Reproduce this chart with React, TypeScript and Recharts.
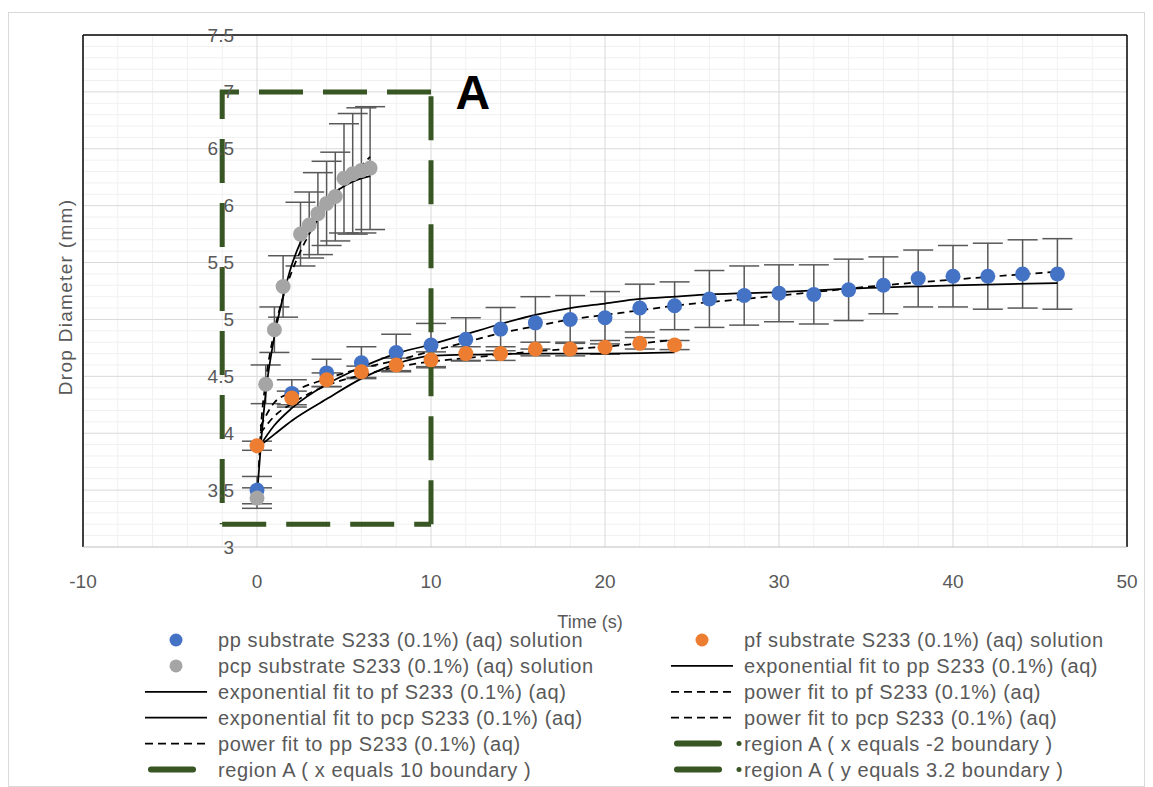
import React from 'react';
import {
  ComposedChart,
  ErrorBar,
  Line,
  ReferenceDot,
  ReferenceLine,
  Scatter,
  XAxis,
  YAxis,
} from 'recharts';

const BLUE = '#4472c4';
const ORANGE = '#ed7d31';
const GRAY = '#a5a5a5';
const GREEN = '#375623';
const TEXT = '#595959';
const BAR = '#595959';
const FONT = "'Liberation Sans', Arial, sans-serif";

// measured drops, pp substrate
const ppTime = [0, 2, 4, 6, 8, 10, 12, 14, 16, 18, 20, 22, 24, 26, 28, 30, 32, 34, 36, 38, 40, 42, 44, 46];
const ppDiameter = [3.5, 4.35, 4.53, 4.62, 4.71, 4.775, 4.825, 4.915, 4.97, 5.0, 5.015, 5.1, 5.12, 5.18, 5.21, 5.23, 5.22, 5.26, 5.3, 5.36, 5.38, 5.38, 5.4, 5.4];
const ppError = [0.12, 0.12, 0.12, 0.14, 0.16, 0.19, 0.19, 0.19, 0.23, 0.21, 0.23, 0.21, 0.21, 0.25, 0.26, 0.25, 0.26, 0.27, 0.25, 0.25, 0.27, 0.29, 0.3, 0.31];

// pf substrate
const pfTime = [0, 2, 4, 6, 8, 10, 12, 14, 16, 18, 20, 22, 24];
const pfDiameter = [3.89, 4.31, 4.47, 4.54, 4.6, 4.645, 4.7, 4.7, 4.74, 4.74, 4.755, 4.79, 4.775];
const pfError = [0.04, 0.06, 0.06, 0.05, 0.06, 0.07, 0.06, 0.06, 0.06, 0.06, 0.06, 0.05, 0.04];

// pcp substrate
const pcpTime = [0, 0.5, 1, 1.5, 2.5, 3, 3.5, 4, 4.5, 5, 5.5, 6, 6.5];
const pcpDiameter = [3.43, 4.43, 4.91, 5.29, 5.75, 5.83, 5.93, 6.02, 6.08, 6.24, 6.28, 6.31, 6.33];
const pcpError = [0.09, 0.17, 0.2, 0.27, 0.28, 0.29, 0.36, 0.37, 0.39, 0.48, 0.53, 0.55, 0.54];

// fitted curves
const expPpTime = [0, 1, 2, 4, 6, 8, 10, 12, 14, 16, 18, 20, 22, 24, 26, 30, 34, 40, 46];
const expPpValue = [3.85, 4.07, 4.22, 4.43, 4.58, 4.7, 4.78, 4.87, 4.96, 5.04, 5.1, 5.14, 5.18, 5.2, 5.22, 5.24, 5.27, 5.3, 5.32];
const powPpTime = [0.2, 1, 2, 4, 6, 8, 10, 12, 14, 16, 18, 20, 22, 24, 28, 32, 36, 40, 46];
const powPpValue = [4.06, 4.27, 4.36, 4.48, 4.57, 4.64, 4.72, 4.8, 4.88, 4.94, 5.0, 5.04, 5.08, 5.12, 5.18, 5.24, 5.3, 5.35, 5.42];
const expPfTime = [0, 1, 2, 4, 6, 8, 10, 12, 16, 20, 24];
const expPfValue = [3.87, 3.99, 4.11, 4.3, 4.48, 4.61, 4.68, 4.69, 4.7, 4.7, 4.71];
const powPfTime = [0.2, 1, 2, 4, 6, 8, 10, 12, 14, 16, 18, 20, 22, 24];
const powPfValue = [4.0, 4.15, 4.26, 4.42, 4.51, 4.58, 4.63, 4.66, 4.69, 4.72, 4.74, 4.76, 4.79, 4.82];
const expPcpTime = [0, 0.25, 0.5, 1, 1.5, 2, 2.5, 3, 3.5, 4, 4.5, 5, 5.5, 6, 6.5];
const expPcpValue = [3.45, 3.95, 4.35, 4.85, 5.2, 5.48, 5.68, 5.84, 5.96, 6.05, 6.12, 6.17, 6.21, 6.24, 6.26];
const powPcpTime = [0.1, 0.25, 0.5, 1, 1.5, 2, 2.5, 3, 3.5, 4, 4.5, 5, 5.5, 6, 6.5];
const powPcpValue = [3.7, 4.1, 4.45, 4.9, 5.2, 5.42, 5.6, 5.75, 5.88, 6.0, 6.1, 6.19, 6.27, 6.35, 6.43];

// region A box
const regionLeftX = [10, -2, -2];
const regionLeftY = [7, 7, 3.2];
const regionRightX = [10, 10];
const regionRightY = [3.2, 7];
const regionBottomX = [-2, 10];
const regionBottomY = [3.2, 3.2];

const xTicks = [-10, 0, 10, 20, 30, 40, 50];
const yTicks = [3, 3.5, 4, 4.5, 5, 5.5, 6, 6.5, 7, 7.5];
const xMinor = Array.from({ length: 31 }, (_, i) => -10 + i * 2).filter((v) => v % 10 !== 0);
const yMinor = Array.from({ length: 46 }, (_, i) => Math.round((3 + i * 0.1) * 10) / 10).filter(
  (v) => Math.round(v * 10) % 5 !== 0,
);

const pts = (xs: number[], ys: number[], es?: number[]) =>
  xs.map((x, i) => ({ x, y: ys[i], e: es ? es[i] : 0 }));

const W = 1137;
const H = 629;
const MARGIN = { top: 27, right: 18, left: 74, bottom: 0 };
const Y_AXIS_W = 1;
const X_DOMAIN: [number, number] = [-10, 50];
const Y_DOMAIN: [number, number] = [3, 7.5];
const PLOT_W = W - MARGIN.left - Y_AXIS_W - MARGIN.right;
const ZERO_SHIFT = (PLOT_W * (0 - X_DOMAIN[0])) / (X_DOMAIN[1] - X_DOMAIN[0]);

const NAMES = {
  pp: 'pp substrate S233 (0.1%) (aq) solution',
  pf: 'pf substrate S233 (0.1%) (aq) solution',
  pcp: 'pcp substrate S233 (0.1%) (aq) solution',
  expPp: 'exponential fit to pp S233 (0.1%) (aq)',
  expPf: 'exponential fit to pf S233 (0.1%) (aq)',
  powPf: 'power fit to pf S233 (0.1%) (aq)',
  expPcp: 'exponential fit to pcp S233 (0.1%) (aq)',
  powPcp: 'power fit to pcp S233 (0.1%) (aq)',
  powPp: 'power fit to pp S233 (0.1%) (aq)',
  regL: 'region A ( x equals -2 boundary )',
  regR: 'region A ( x equals 10 boundary )',
  regB: 'region A ( y equals 3.2 boundary )',
};

const legendItems: { name: string; kind: string; color?: string }[] = [
  { name: NAMES.pp, kind: 'dot', color: BLUE },
  { name: NAMES.pf, kind: 'dot', color: ORANGE },
  { name: NAMES.pcp, kind: 'dot', color: GRAY },
  { name: NAMES.expPp, kind: 'solid' },
  { name: NAMES.expPf, kind: 'solid' },
  { name: NAMES.powPf, kind: 'dash' },
  { name: NAMES.expPcp, kind: 'solid' },
  { name: NAMES.powPcp, kind: 'dash' },
  { name: NAMES.powPp, kind: 'dash' },
  { name: NAMES.regL, kind: 'regionDot' },
  { name: NAMES.regR, kind: 'region' },
  { name: NAMES.regB, kind: 'regionDot' },
];

const dot = (color: string) => (p: any) =>
  p.cx == null ? <g /> : <circle cx={p.cx} cy={p.cy} r={7.5} fill={color} />;

const YTick = ({ x, y, payload }: any) => (
  <text
    x={x + ZERO_SHIFT - 23}
    y={y}
    textAnchor="end"
    dominantBaseline="central"
    fill={TEXT}
    fontSize={19}
    fontFamily={FONT}
  >
    {payload.value}
  </text>
);

function Legend() {
  const colX = [137, 663];
  const symW = 62;
  return (
    <svg width={W} height={159} style={{ position: 'absolute', left: 0, top: 619 }}>
      {legendItems.map((it, i) => {
        const row = Math.floor(i / 2);
        const x0 = colX[i % 2];
        const y = 13 + row * 25.9;
        let sym;
        if (it.kind === 'dot') {
          sym = <circle cx={x0 + symW / 2} cy={y} r={6.5} fill={it.color} />;
        } else if (it.kind === 'solid' || it.kind === 'dash') {
          sym = (
            <line
              x1={x0}
              x2={x0 + symW}
              y1={y}
              y2={y}
              stroke="#000"
              strokeWidth={1.75}
              strokeDasharray={it.kind === 'dash' ? '8 5' : undefined}
            />
          );
        } else {
          sym = (
            <g>
              <line x1={x0 + 6} x2={x0 + 48} y1={y} y2={y} stroke={GREEN} strokeWidth={6} strokeLinecap="round" />
              {it.kind === 'regionDot' && <circle cx={x0 + 68} cy={y} r={2.5} fill={GREEN} />}
            </g>
          );
        }
        return (
          <g key={it.name}>
            {sym}
            <text
              x={x0 + symW + 11}
              y={y}
              dominantBaseline="central"
              fill={TEXT}
              fontSize={20}
              letterSpacing={0.6}
              fontFamily={FONT}
            >
              {it.name}
            </text>
          </g>
        );
      })}
    </svg>
  );
}

export default function App() {
  return (
    <div style={{ position: 'relative', width: W, height: 779, fontFamily: FONT }}>
      <div
        style={{
          position: 'absolute',
          left: 0,
          top: 4,
          width: W,
          height: 775,
          border: '1px solid #d9d9d9',
          boxSizing: 'border-box',
        }}
      />
      <div style={{ position: 'absolute', left: 0, top: 0 }}>
        <ComposedChart width={W} height={H} margin={MARGIN}>
          <XAxis
            type="number"
            dataKey="x"
            domain={X_DOMAIN}
            ticks={xTicks}
            allowDataOverflow
            tickLine={false}
            tickSize={0}
            tickMargin={28}
            axisLine={{ stroke: '#bfbfbf' }}
            tick={{ fill: TEXT, fontSize: 19, fontFamily: FONT }}
            height={90}
            label={{
              value: 'Time (s)',
              position: 'insideBottom',
              offset: 9,
              dx: -15,
              fill: TEXT,
              fontFamily: FONT,
              style: { fontSize: 18 },
            }}
          />
          <YAxis
            type="number"
            dataKey="y"
            domain={Y_DOMAIN}
            ticks={yTicks}
            allowDataOverflow
            width={Y_AXIS_W}
            tickLine={false}
            tickSize={0}
            tickMargin={0}
            axisLine={false}
            tick={<YTick />}
            label={{
              value: 'Drop Diameter (mm)',
              angle: -90,
              position: 'left',
              offset: 17,
              dy: 6,
              fill: TEXT,
              fontFamily: FONT,
              style: { textAnchor: 'middle', fontSize: 19, letterSpacing: 1.3 },
            }}
          />
          {xMinor.map((v) => (
            <ReferenceLine key={`xm${v}`} x={v} stroke="#f0f0f0" strokeWidth={1} />
          ))}
          {yMinor.map((v) => (
            <ReferenceLine key={`ym${v}`} y={v} stroke="#f0f0f0" strokeWidth={1} />
          ))}
          {xTicks.slice(1, -1).map((v) => (
            <ReferenceLine key={`xM${v}`} x={v} stroke="#d9d9d9" strokeWidth={1} />
          ))}
          {yTicks.slice(1, -1).map((v) => (
            <ReferenceLine key={`yM${v}`} y={v} stroke="#d9d9d9" strokeWidth={1} />
          ))}
          <ReferenceLine x={X_DOMAIN[0]} stroke="#000" strokeWidth={1.5} />
          <ReferenceLine x={X_DOMAIN[1]} stroke="#000" strokeWidth={1.5} />
          <ReferenceLine y={Y_DOMAIN[1]} stroke="#000" strokeWidth={1.5} />

          <Scatter name={NAMES.pp} data={pts(ppTime, ppDiameter, ppError)} shape={dot(BLUE)} isAnimationActive={false}>
            <ErrorBar dataKey="e" direction="y" width={15} stroke={BAR} strokeWidth={1.5} />
          </Scatter>
          <Scatter name={NAMES.pf} data={pts(pfTime, pfDiameter, pfError)} shape={dot(ORANGE)} isAnimationActive={false}>
            <ErrorBar dataKey="e" direction="y" width={15} stroke={BAR} strokeWidth={1.5} />
          </Scatter>
          <Scatter name={NAMES.pcp} data={pts(pcpTime, pcpDiameter, pcpError)} shape={dot(GRAY)} isAnimationActive={false}>
            <ErrorBar dataKey="e" direction="y" width={15} stroke={BAR} strokeWidth={1.5} />
          </Scatter>

          <Line name={NAMES.expPp} data={pts(expPpTime, expPpValue)} dataKey="y" type="monotone" stroke="#000" strokeWidth={1.75} dot={false} isAnimationActive={false} />
          <Line name={NAMES.expPf} data={pts(expPfTime, expPfValue)} dataKey="y" type="monotone" stroke="#000" strokeWidth={1.75} dot={false} isAnimationActive={false} />
          <Line name={NAMES.powPf} data={pts(powPfTime, powPfValue)} dataKey="y" type="monotone" stroke="#000" strokeWidth={1.75} strokeDasharray="7 5" dot={false} isAnimationActive={false} />
          <Line name={NAMES.expPcp} data={pts(expPcpTime, expPcpValue)} dataKey="y" type="monotone" stroke="#000" strokeWidth={1.75} dot={false} isAnimationActive={false} />
          <Line name={NAMES.powPcp} data={pts(powPcpTime, powPcpValue)} dataKey="y" type="monotone" stroke="#000" strokeWidth={1.75} strokeDasharray="7 5" dot={false} isAnimationActive={false} />
          <Line name={NAMES.powPp} data={pts(powPpTime, powPpValue)} dataKey="y" type="monotone" stroke="#000" strokeWidth={1.75} strokeDasharray="7 5" dot={false} isAnimationActive={false} />

          <Line name={NAMES.regL} data={pts(regionLeftX, regionLeftY)} dataKey="y" type="linear" stroke={GREEN} strokeWidth={5} strokeDasharray="44 20" dot={false} isAnimationActive={false} />
          <Line name={NAMES.regR} data={pts(regionRightX, regionRightY)} dataKey="y" type="linear" stroke={GREEN} strokeWidth={5} strokeDasharray="44 20" dot={false} isAnimationActive={false} />
          <Line name={NAMES.regB} data={pts(regionBottomX, regionBottomY)} dataKey="y" type="linear" stroke={GREEN} strokeWidth={5} strokeDasharray="44 20" dot={false} isAnimationActive={false} />

          <ReferenceDot
            x={12.4}
            y={7}
            r={1}
            fill="none"
            stroke="none"
            label={{ value: 'A', position: 'center', fontSize: 48, fontWeight: 700, fill: '#000', fontFamily: FONT }}
          />
        </ComposedChart>
      </div>
      <Legend />
    </div>
  );
}
